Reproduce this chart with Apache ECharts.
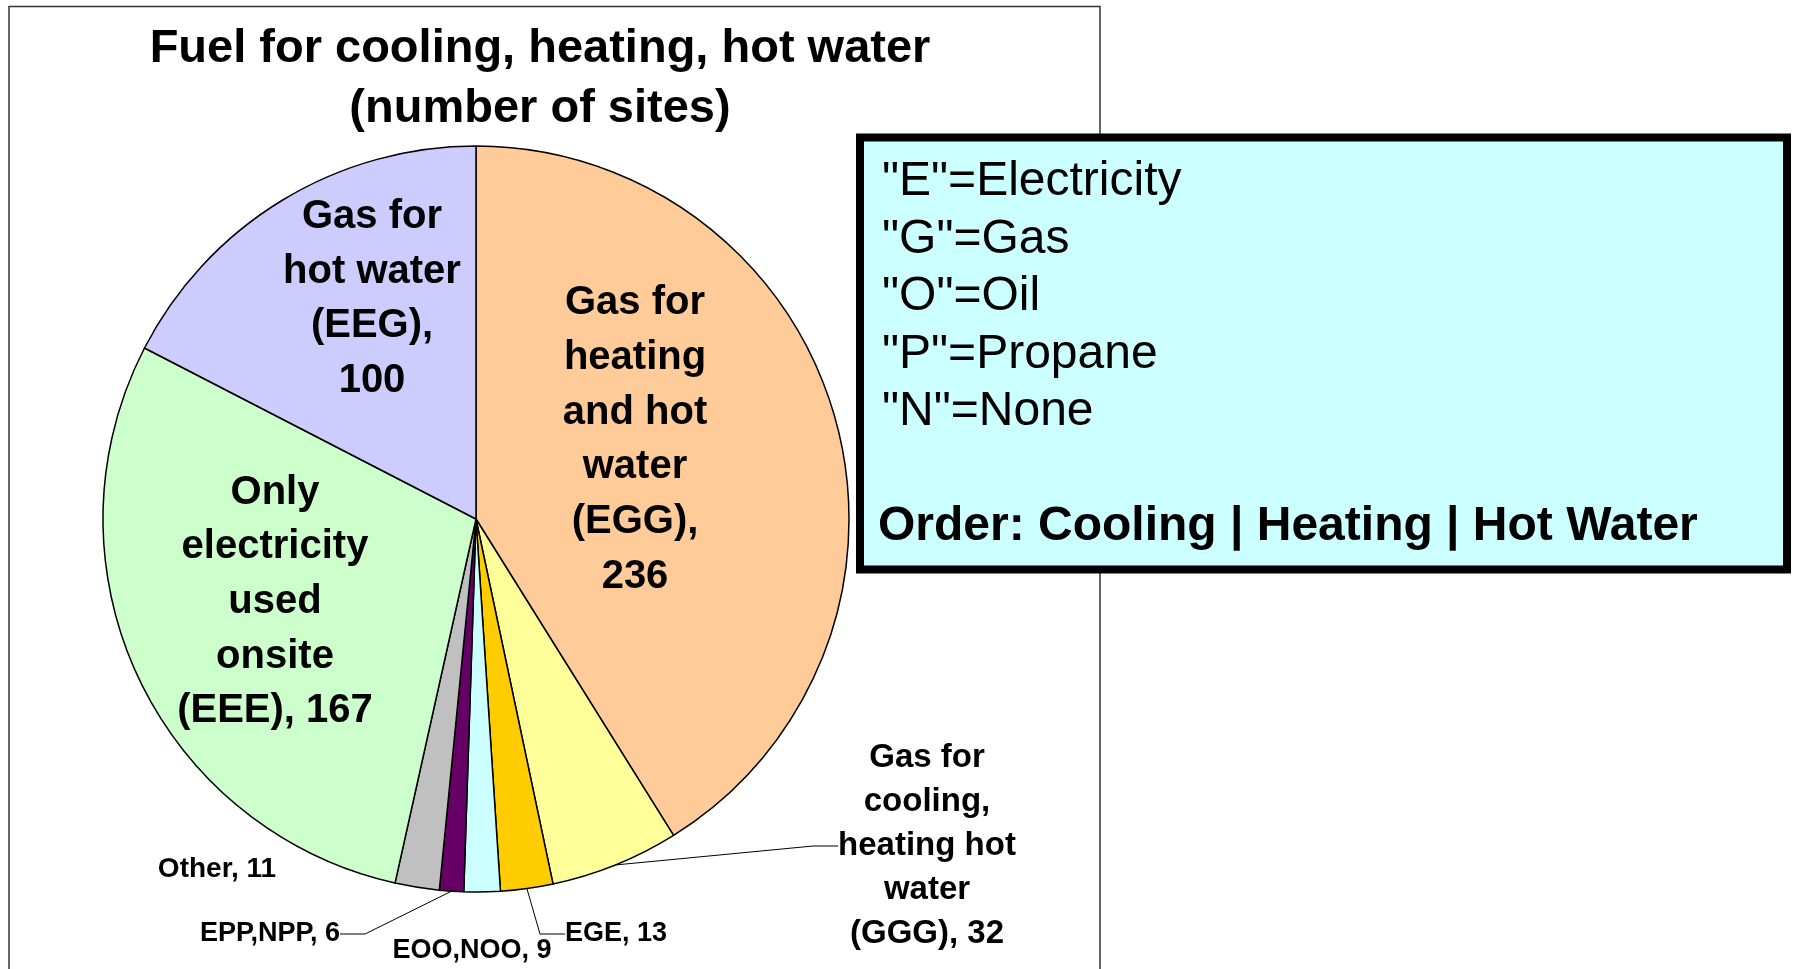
<!DOCTYPE html>
<html>
<head>
<meta charset="utf-8">
<title>Fuel for cooling, heating, hot water</title>
<script src="https://cdn.jsdelivr.net/npm/echarts@6/dist/echarts.min.js"></script>
<style>
  html, body { margin: 0; padding: 0; background: #fff; }
  #main { width: 1794px; height: 969px; }
</style>
</head>
<body>
<div id="main"></div>
<script>
// slices, clockwise from 12 o'clock
var sliceNames = [
  'Gas for\nheating\nand hot\nwater\n(EGG)',
  'Gas for\ncooling,\nheating hot\nwater\n(GGG)',
  'EGE',
  'EOO,NOO',
  'EPP,NPP',
  'Other',
  'Only\nelectricity\nused\nonsite\n(EEE)',
  'Gas for\nhot water\n(EEG)'
]
var siteCounts = [236, 32, 13, 9, 6, 11, 167, 100]
// value goes on its own line for these
var valueOnNewLine = [true, false, false, false, false, false, false, true]
var sliceColors = ['#FFCC99', '#FFFF99', '#FFCC00', '#CCFFFF', '#660066', '#C0C0C0', '#CCFFCC', '#CCCCFF']

var keyLines = ['"E"=Electricity', '"G"=Gas', '"O"=Oil', '"P"=Propane', '"N"=None']
var keyOrder = 'Order: Cooling | Heating | Hot Water'

// where each label sits: [x, y, align, fontSize, lineHeight, showLine, inside]
var labelSpots = [
  [635, 440, 'center', 40, 54.7, false, true],
  [927, 846, 'center', 33, 44, true, false],
  [565, 934, 'left', 27, 30, true, false],
  [472, 951, 'center', 27, 30, false, false],
  [340, 934, 'right', 27, 30, true, false],
  [217, 869, 'center', 28, 30, false, false],
  [275, 602, 'center', 40, 54.7, false, true],
  [372, 299, 'center', 40, 54.7, false, true]
]

var FONT = '"Liberation Sans", Arial, sans-serif'
var chart = echarts.init(document.getElementById('main'), null, { renderer: 'canvas' })

var pieData = sliceNames.map(function (name, i) {
  var spot = labelSpots[i]
  return {
    name: name,
    value: siteCounts[i],
    itemStyle: { color: sliceColors[i] },
    label: {
      position: spot[6] ? 'inside' : 'outside',
      fontSize: spot[3],
      lineHeight: spot[4]
    },
    labelLine: { show: spot[5] }
  }
})

var keyTexts = keyLines.map(function (t, i) {
  return {
    type: 'text',
    x: 882,
    y: 182 + i * 57.5,
    style: {
      text: t,
      font: 'normal 48px ' + FONT,
      fill: '#000',
      verticalAlign: 'middle'
    }
  }
})
keyTexts.push({
  type: 'text',
  x: 878,
  y: 527,
  style: {
    text: keyOrder,
    font: 'bold 48px ' + FONT,
    fill: '#000',
    verticalAlign: 'middle'
  }
})

var option = {
  backgroundColor: '#fff',
  animation: false,
  title: {
    text: 'Fuel for cooling, heating, hot water\n(number of sites)',
    left: 540,
    top: 19,
    padding: 0,
    textAlign: 'center',
    textStyle: {
      fontFamily: FONT,
      fontWeight: 'bold',
      fontSize: 47,
      lineHeight: 60,
      color: '#000'
    }
  },
  graphic: [
    {
      type: 'rect',
      z: -10,
      shape: { x: 9, y: 6.5, width: 1091, height: 1000 },
      style: { fill: 'none', stroke: '#333', lineWidth: 1.5 }
    },
    {
      type: 'group',
      z: 100,
      children: [{
        type: 'rect',
        shape: { x: 860, y: 137.5, width: 927, height: 432 },
        style: { fill: '#CCFFFF', stroke: '#000', lineWidth: 8 }
      }].concat(keyTexts)
    }
  ],
  series: [{
    type: 'pie',
    center: [476, 519],
    radius: 373,
    startAngle: 90,
    clockwise: true,
    avoidLabelOverlap: false,
    itemStyle: {
      borderColor: '#000',
      borderWidth: 1.5
    },
    label: {
      show: true,
      color: '#000',
      fontFamily: FONT,
      fontWeight: 'bold',
      align: 'center',
      formatter: function (p) {
        return p.name + ',' + (valueOnNewLine[p.dataIndex] ? '\n' : ' ') + p.value
      }
    },
    labelLine: {
      lineStyle: { color: '#000', width: 1 },
      length: 20,
      length2: 25
    },
    labelLayout: function (params) {
      var s = labelSpots[params.dataIndex]
      return { x: s[0], y: s[1], align: s[2], verticalAlign: 'middle' }
    },
    emphasis: { disabled: true },
    data: pieData
  }]
}
chart.setOption(option)
</script>
</body>
</html>
